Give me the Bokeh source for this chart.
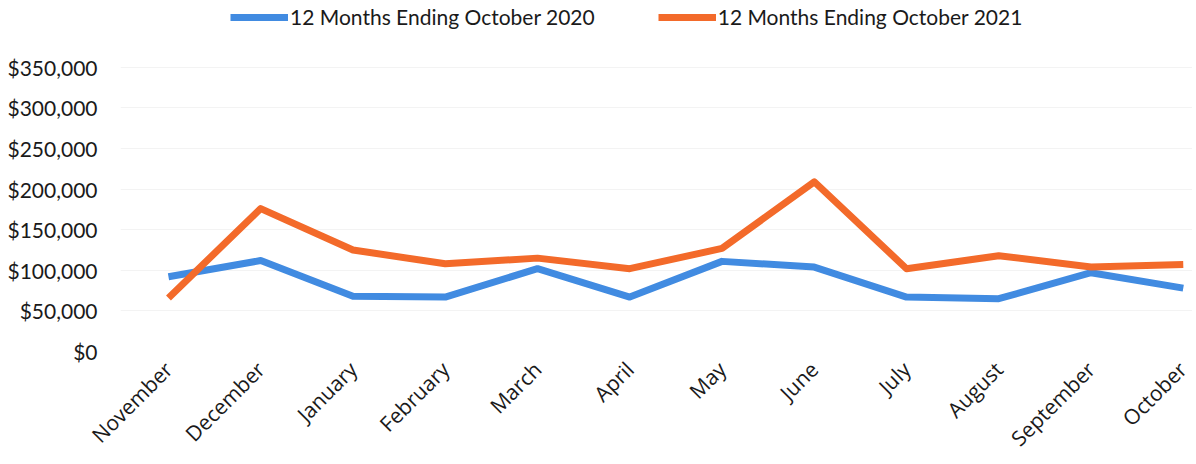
import math
from bokeh.plotting import figure
from bokeh.models import Range1d, FixedTicker, NumeralTickFormatter, Legend, LegendItem
from bokeh.embed import file_html
from bokeh.resources import INLINE

months = ["November", "December", "January", "February", "March", "April",
          "May", "June", "July", "August", "September", "October"]
series_2020 = [92000, 112000, 68000, 67000, 102000, 67000, 111000, 104000, 67000, 65000, 97000, 78000]
series_2021 = [66000, 176000, 125000, 108000, 115000, 102000, 127000, 209000, 102000, 118000, 104000, 107000]
y_ticks = [0, 50000, 100000, 150000, 200000, 250000, 300000, 350000]

xs = list(range(len(months)))

# y range extends above the top tick to leave room for the legend inside the frame
p = figure(width=1192, height=464, output_backend="svg", toolbar_location=None,
           x_range=Range1d(-0.52, 11.1), y_range=Range1d(0, 432300),
           min_border_left=120, min_border_right=0, min_border_top=0, min_border_bottom=0)

p.outline_line_color = None
p.background_fill_color = "white"
p.border_fill_color = "white"

l1 = p.line(xs, series_2020, line_color="#418be1", line_width=7, line_join="round")
l2 = p.line(xs, series_2021, line_color="#f36a2a", line_width=7, line_join="round")

p.xaxis.ticker = FixedTicker(ticks=xs)
p.xaxis.major_label_overrides = {i: m for i, m in enumerate(months)}
p.xaxis.major_label_orientation = math.pi / 4
p.xaxis.axis_line_color = None
p.xaxis.major_tick_line_color = None
p.xaxis.minor_tick_line_color = None
p.xaxis.major_label_text_font = "Open Sans"
p.xaxis.major_label_text_font_size = "21px"
p.xaxis.major_label_text_color = "#1a1a1a"
p.xaxis.major_label_standoff = 8

p.yaxis.ticker = FixedTicker(ticks=y_ticks)
p.yaxis.formatter = NumeralTickFormatter(format="$0,0")
p.yaxis.axis_line_color = None
p.yaxis.major_tick_line_color = None
p.yaxis.minor_tick_line_color = None
p.yaxis.major_label_text_font = "Lato"
p.yaxis.major_label_text_font_size = "21px"
p.yaxis.major_label_text_color = "#1a1a1a"
p.yaxis.major_label_standoff = 17

p.xgrid.grid_line_color = None
p.ygrid.grid_line_color = "#f3f3f3"
p.ygrid.grid_line_width = 1

legend = Legend(items=[LegendItem(label="12 Months Ending October 2020", renderers=[l1]),
                       LegendItem(label="12 Months Ending October 2021", renderers=[l2])],
                orientation="horizontal", location=(110, 322))
legend.label_text_font = "Lato"
legend.label_text_font_size = "21px"
legend.label_text_color = "#1a1a1a"
legend.glyph_width = 58
legend.glyph_height = 20
legend.spacing = 63
legend.label_standoff = 2
legend.border_line_color = None
legend.background_fill_alpha = 0
legend.padding = 0
legend.margin = 0
p.add_layout(legend, "center")

open("out.html", "w").write(file_html(p, INLINE))
